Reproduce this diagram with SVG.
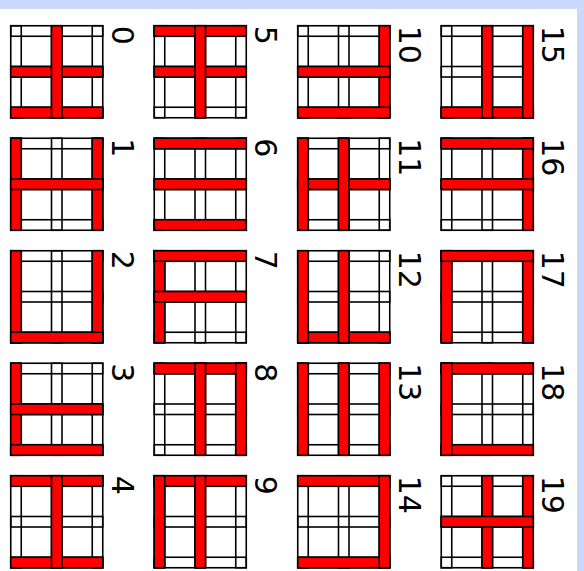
<svg xmlns="http://www.w3.org/2000/svg" xmlns:xlink="http://www.w3.org/1999/xlink" width="584" height="571" viewBox="0 0 584 571">
<style>
.w{fill:none;stroke:#000;stroke-width:1.6}
.r{fill:#ff0000;stroke:#000;stroke-width:1.6}
.lbl{font-family:"DejaVu Sans",sans-serif;font-size:30px;fill:#000}
</style>
<defs>
<g id="grid" class="w">
<rect x="0" y="0" width="92" height="10.5"/>
<rect x="0" y="40.75" width="92" height="10.5"/>
<rect x="0" y="81.5" width="92" height="10.5"/>
<rect x="0" y="0" width="10.5" height="92"/>
<rect x="40.75" y="0" width="10.5" height="92"/>
<rect x="81.5" y="0" width="10.5" height="92"/>
</g>
<rect id="H0" class="r" x="0" y="0" width="92" height="10.5"/>
<rect id="H1" class="r" x="0" y="40.75" width="92" height="10.5"/>
<rect id="H2" class="r" x="0" y="81.5" width="92" height="10.5"/>
<rect id="V0" class="r" x="0" y="0" width="10.5" height="92"/>
<rect id="V1" class="r" x="40.75" y="0" width="10.5" height="92"/>
<rect id="V2" class="r" x="81.5" y="0" width="10.5" height="92"/>
</defs>
<rect x="0" y="0" width="584" height="571" fill="#c9d8fb"/>
<rect x="0" y="9" width="577" height="562" fill="#ffffff"/>

<g id="tile0" transform="translate(10.75 25.75)"><use xlink:href="#grid"/><use xlink:href="#H1"/><use xlink:href="#H2"/><use xlink:href="#V1"/><text class="lbl" x="101" y="0" transform="rotate(90 101 0)">0</text></g>
<g id="tile1" transform="translate(10.75 138.25)"><use xlink:href="#grid"/><use xlink:href="#V0"/><use xlink:href="#V2"/><use xlink:href="#H1"/><text class="lbl" x="101" y="0" transform="rotate(90 101 0)">1</text></g>
<g id="tile2" transform="translate(10.75 250.75)"><use xlink:href="#grid"/><use xlink:href="#V0"/><use xlink:href="#V2"/><use xlink:href="#H2"/><text class="lbl" x="101" y="0" transform="rotate(90 101 0)">2</text></g>
<g id="tile3" transform="translate(10.75 363.25)"><use xlink:href="#grid"/><use xlink:href="#V0"/><use xlink:href="#H1"/><use xlink:href="#H2"/><text class="lbl" x="101" y="0" transform="rotate(90 101 0)">3</text></g>
<g id="tile4" transform="translate(10.75 475.75)"><use xlink:href="#grid"/><use xlink:href="#H0"/><use xlink:href="#H2"/><use xlink:href="#V1"/><text class="lbl" x="101" y="0" transform="rotate(90 101 0)">4</text></g>

<g id="tile5" transform="translate(154.25 25.75)"><use xlink:href="#grid"/><use xlink:href="#H0"/><use xlink:href="#H1"/><use xlink:href="#V1"/><text class="lbl" x="101" y="0" transform="rotate(90 101 0)">5</text></g>
<g id="tile6" transform="translate(154.25 138.25)"><use xlink:href="#grid"/><use xlink:href="#H0"/><use xlink:href="#H1"/><use xlink:href="#H2"/><text class="lbl" x="101" y="0" transform="rotate(90 101 0)">6</text></g>
<g id="tile7" transform="translate(154.25 250.75)"><use xlink:href="#grid"/><use xlink:href="#V0"/><use xlink:href="#H0"/><use xlink:href="#H1"/><text class="lbl" x="101" y="0" transform="rotate(90 101 0)">7</text></g>
<g id="tile8" transform="translate(154.25 363.25)"><use xlink:href="#grid"/><use xlink:href="#H0"/><use xlink:href="#V1"/><use xlink:href="#V2"/><text class="lbl" x="101" y="0" transform="rotate(90 101 0)">8</text></g>
<g id="tile9" transform="translate(154.25 475.75)"><use xlink:href="#grid"/><use xlink:href="#H0"/><use xlink:href="#V0"/><use xlink:href="#V1"/><text class="lbl" x="101" y="0" transform="rotate(90 101 0)">9</text></g>

<g id="tile10" transform="translate(297.75 25.75)"><use xlink:href="#grid"/><use xlink:href="#V2"/><use xlink:href="#H1"/><use xlink:href="#H2"/><text class="lbl" x="101" y="0" transform="rotate(90 101 0)">10</text></g>
<g id="tile11" transform="translate(297.75 138.25)"><use xlink:href="#grid"/><use xlink:href="#H1"/><use xlink:href="#V0"/><use xlink:href="#V1"/><text class="lbl" x="101" y="0" transform="rotate(90 101 0)">11</text></g>
<g id="tile12" transform="translate(297.75 250.75)"><use xlink:href="#grid"/><use xlink:href="#H2"/><use xlink:href="#V0"/><use xlink:href="#V1"/><text class="lbl" x="101" y="0" transform="rotate(90 101 0)">12</text></g>
<g id="tile13" transform="translate(297.75 363.25)"><use xlink:href="#grid"/><use xlink:href="#V0"/><use xlink:href="#V1"/><use xlink:href="#V2"/><text class="lbl" x="101" y="0" transform="rotate(90 101 0)">13</text></g>
<g id="tile14" transform="translate(297.75 475.75)"><use xlink:href="#grid"/><use xlink:href="#H0"/><use xlink:href="#H2"/><use xlink:href="#V2"/><text class="lbl" x="101" y="0" transform="rotate(90 101 0)">14</text></g>

<g id="tile15" transform="translate(441.25 25.75)"><use xlink:href="#grid"/><use xlink:href="#H2"/><use xlink:href="#V1"/><use xlink:href="#V2"/><text class="lbl" x="101" y="0" transform="rotate(90 101 0)">15</text></g>
<g id="tile16" transform="translate(441.25 138.25)"><use xlink:href="#grid"/><use xlink:href="#V2"/><use xlink:href="#H0"/><use xlink:href="#H1"/><text class="lbl" x="101" y="0" transform="rotate(90 101 0)">16</text></g>
<g id="tile17" transform="translate(441.25 250.75)"><use xlink:href="#grid"/><use xlink:href="#V0"/><use xlink:href="#V2"/><use xlink:href="#H0"/><text class="lbl" x="101" y="0" transform="rotate(90 101 0)">17</text></g>
<g id="tile18" transform="translate(441.25 363.25)"><use xlink:href="#grid"/><use xlink:href="#H0"/><use xlink:href="#H2"/><use xlink:href="#V0"/><text class="lbl" x="101" y="0" transform="rotate(90 101 0)">18</text></g>
<g id="tile19" transform="translate(441.25 475.75)"><use xlink:href="#grid"/><use xlink:href="#V1"/><use xlink:href="#V2"/><use xlink:href="#H1"/><text class="lbl" x="101" y="0" transform="rotate(90 101 0)">19</text></g>
</svg>
